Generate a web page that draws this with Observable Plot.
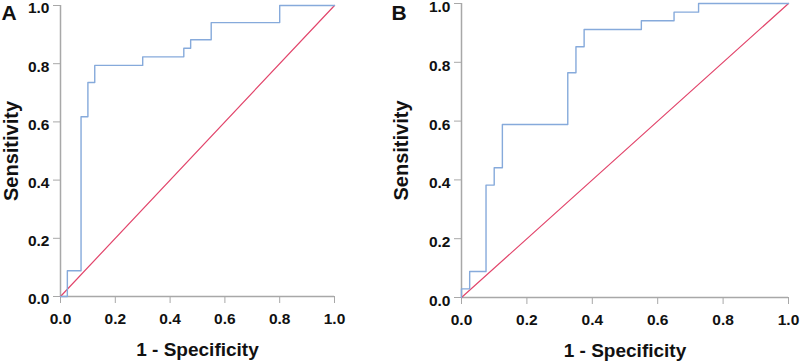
<!DOCTYPE html>
<html>
<head>
<meta charset="utf-8">
<script src="https://cdn.jsdelivr.net/npm/d3@7"></script>
<script src="https://cdn.jsdelivr.net/npm/@observablehq/plot@0.6"></script>
<style>
  html, body { margin: 0; padding: 0; background: #fff; }
  #wrap { position: relative; width: 800px; height: 362px; overflow: hidden; }
  #wrap > div { position: absolute; top: 0; }
  svg { font-family: "Liberation Sans", Arial, sans-serif; overflow: visible; }
</style>
</head>
<body>
<div id="wrap"><div id="pa" style="left:0"></div><div id="pb" style="left:390px"></div></div>
<script>
// Panel A ROC corner points (1 - specificity, sensitivity)
const fprA = [0, 0.025, 0.075, 0.1, 0.125, 0.3, 0.45, 0.475, 0.55, 0.8, 1];
const tprA = [0, 3/34, 21/34, 25/34, 27/34, 28/34, 29/34, 30/34, 32/34, 1, 1];
// Panel B ROC corner points
const fprB = [0, 0, 0.025, 0.075, 0.1, 0.125, 0.325, 0.35, 0.375, 0.55, 0.65, 0.725, 1];
const tprB = [0, 1/34, 3/34, 13/34, 15/34, 20/34, 26/34, 29/34, 31/34, 32/34, 33/34, 1, 1];
// Reference diagonal endpoints
const refLine = [0, 1];
const ticks = [0, 0.2, 0.4, 0.6, 0.8, 1.0];
const panelLabels = ["A", "B"];
const xTitle = "1 - Specificity";
const yTitle = "Sensitivity";

const blue = "#86aadb";
const red = "#e2466c";
const axisGray = "#a8a8a8";

function panel({fpr, tpr, label, width, mL, mR, mT, mB, yTitleDx, yLabelDy}) {
  const pts = fpr.map((x, i) => ({x, y: tpr[i]}));
  return Plot.plot({
    width, height: 362,
    marginLeft: mL, marginRight: mR, marginTop: mT, marginBottom: mB,
    x: {domain: [0, 1]},
    y: {domain: [0, 1]},
    style: {fontFamily: "Liberation Sans, Arial, sans-serif", background: "white", overflow: "visible"},
    marks: [
      Plot.ruleY([0], {stroke: axisGray, strokeWidth: 1.5}),
      Plot.ruleX([0], {stroke: axisGray, strokeWidth: 1.5}),
      Plot.axisX(ticks, {tickSize: 7, tickPadding: 9, stroke: axisGray, fill: "#111", fontSize: 15.5, fontWeight: "bold", tickFormat: d3.format(".1f"), label: null, lineAnchor: "top"}),
      Plot.axisY(ticks, {tickSize: 7, stroke: axisGray, fill: "none", tickFormat: d3.format(".1f"), label: null}),
      Plot.axisY(ticks, {tickSize: 0, tickPadding: 11, fill: "#111", fontSize: 15.5, fontWeight: "bold", tickFormat: d3.format(".1f"), label: null, dy: yLabelDy}),
      Plot.line(refLine, {x: d => d, y: d => d, stroke: red, strokeWidth: 1.2}),
      Plot.line(pts, {x: "x", y: "y", curve: "step-after", stroke: blue, strokeWidth: 1.4}),
      Plot.text([xTitle], {frameAnchor: "bottom", dy: 53.5, fontSize: 19, fontWeight: "bold", fill: "#111", textAnchor: "middle", lineAnchor: "middle"}),
      Plot.text([yTitle], {frameAnchor: "left", dx: yTitleDx, rotate: -90, fontSize: 20, fontWeight: "bold", fill: "#111", textAnchor: "middle", lineAnchor: "middle"}),
      Plot.text([label], {frameAnchor: "top-left", dx: -mL + 1, dy: 5 - mT, textAnchor: "start", lineAnchor: "top", fontSize: 21, fontWeight: "bold", fill: "#111"})
    ]
  });
}

document.getElementById("pa").appendChild(panel({fpr: fprA, tpr: tprA, label: panelLabels[0], width: 390, mL: 60, mR: 56, mT: 5, mB: 66, yTitleDx: -49, yLabelDy: 3}));
document.getElementById("pb").appendChild(panel({fpr: fprB, tpr: tprB, label: panelLabels[1], width: 410, mL: 71, mR: 12, mT: 3, mB: 65, yTitleDx: -60, yLabelDy: 3.5}));
</script>
</body>
</html>
